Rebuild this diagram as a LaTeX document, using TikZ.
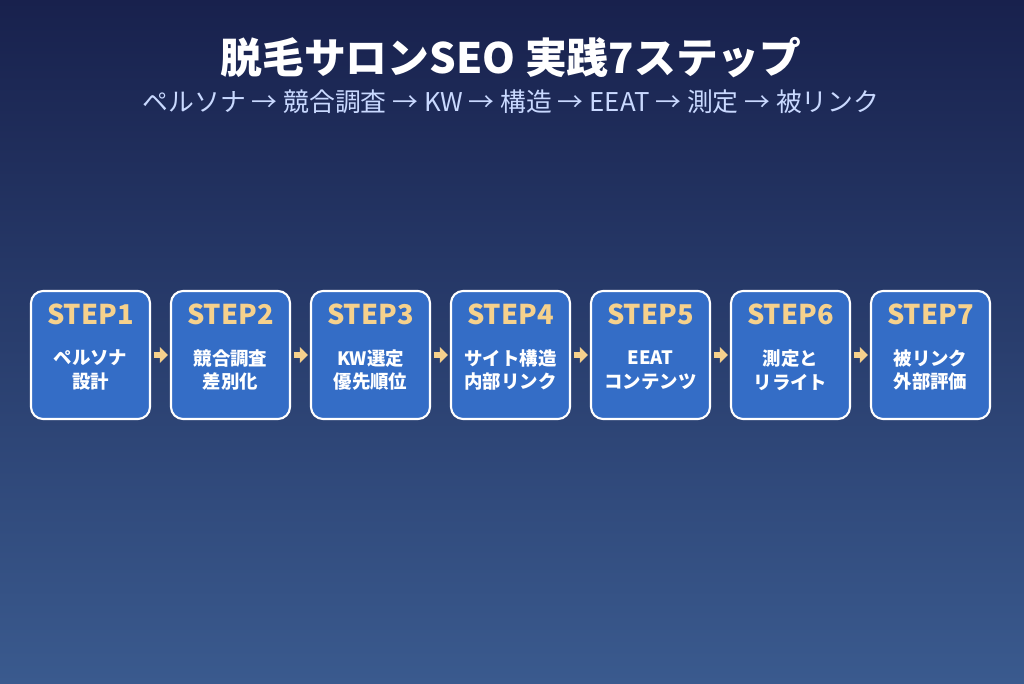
\documentclass[tikz,border=0pt]{standalone}
\usepackage{fontspec}
\setmainfont{Noto Sans CJK JP}
\usepackage{xcolor}
\usetikzlibrary{arrows.meta,positioning}

\definecolor{bgtop}{HTML}{18214D}
\definecolor{bgbottom}{HTML}{3A5A8E}
\definecolor{stepblue}{HTML}{346DC6}
\definecolor{stepgold}{HTML}{F6D18C}
\definecolor{subblue}{HTML}{C9D9FF}

\tikzset{
    stepbox/.style={draw=white,line width=1.2pt,fill=stepblue,rounded corners=0.24cm,
        minimum width=2.38cm,minimum height=2.56cm},
    steplabel/.style={text=stepgold,font=\bfseries\fontsize{15.5}{18}\selectfont},
    steptext/.style={text=white,align=center,font=\bfseries\fontsize{10.5}{13.5}\selectfont},
    flow/.style={-{Triangle[length=4.6pt,width=9pt]},stepgold,line width=3.3pt,
        shorten <=1.6pt,shorten >=1.2pt}
}

\begin{document}
\begin{tikzpicture}[x=0.02cm,y=0.02cm]
    % background
    \shade[top color=bgtop,bottom color=bgbottom] (0,0) rectangle (1024,683);
    \useasboundingbox (0,0) rectangle (1024,683);

    % title
    \node[text=white,font=\bfseries\fontsize{23.8}{28}\selectfont] (title) at (511,625) {脱毛サロンSEO 実践7ステップ};
    \node[text=subblue,font=\fontsize{14.7}{17}\selectfont] (subtitle) at (511,581)
        {ペルソナ → 競合調査 → KW → 構造 → EEAT → 測定 → 被リンク};

    % steps
    \foreach \i/\txt in {1/{ペルソナ\\設計},2/{競合調査\\差別化},3/{KW選定\\優先順位},
        4/{サイト構造\\内部リンク},5/{EEAT\\コンテンツ},6/{測定と\\リライト},7/{被リンク\\外部評価}}{
        \node[stepbox] (s\i) at ({90.5+140*(\i-1)},328) {};
        \node[steplabel] (l\i) at ({90.5+140*(\i-1)},369) {STEP\i};
        \node[steptext] (t\i) at ({90.5+140*(\i-1)},313) {\txt};
    }

    % arrows between steps
    \foreach \i [evaluate=\i as \j using int(\i+1)] in {1,...,6}
        \draw[flow] (s\i) -- (s\j);
\end{tikzpicture}
\end{document}
